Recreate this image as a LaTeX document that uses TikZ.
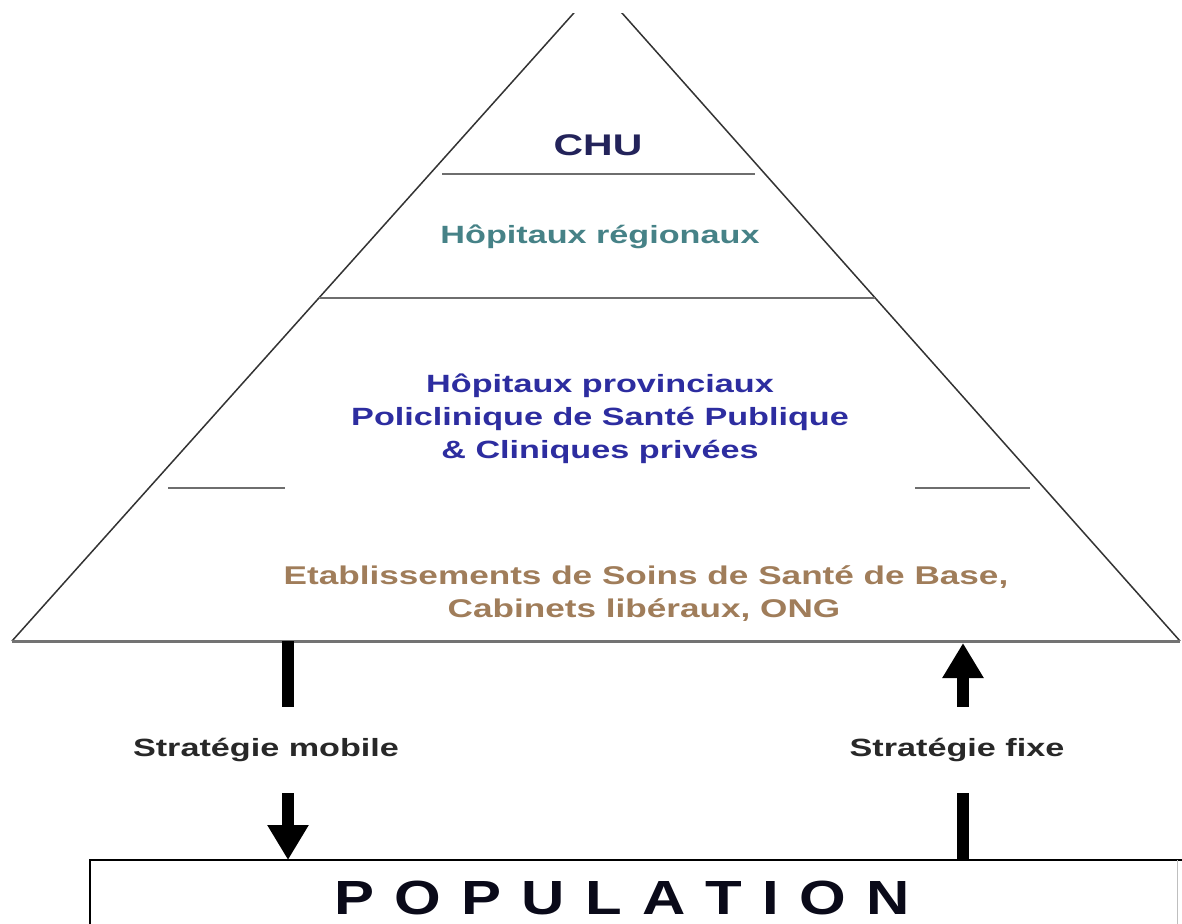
\documentclass[tikz,border=0pt]{standalone}
\usepackage{fontspec}
\setmainfont{Liberation Sans}
\newfontfamily\wf[FakeStretch=1.37]{Liberation Sans}
\newfontfamily\pf[FakeStretch=1.25]{Liberation Sans}
\usetikzlibrary{arrows.meta}
\definecolor{chuc}{RGB}{35,35,90}
\definecolor{regc}{RGB}{70,130,135}
\definecolor{provc}{RGB}{45,45,160}
\definecolor{basec}{RGB}{160,125,90}
\definecolor{stratc}{RGB}{40,40,40}
\definecolor{sepc}{RGB}{110,110,110}
\definecolor{popc}{RGB}{10,10,25}
\begin{document}
\begin{tikzpicture}[x=0.02cm,y=-0.02cm,
  lbl/.style={inner sep=0pt, align=center, font=\wf\bfseries\fontsize{14.2pt}{17pt}\selectfont},
  sepline/.style={draw=sepc, line width=0.04cm},
  side/.style={draw=black!80, line width=0.03cm},
  shaft/.style={line width=0.24cm, draw=black},
  tip/.style={-{Triangle[width=0.78cm,length=0.7cm]}}
  ]
\useasboundingbox (0,0) rectangle (1182,923);
\fill[white] (0,0) rectangle (1182,923);
% pyramid
\coordinate (apex) at (598,-14);
\coordinate (bl) at (12,641);
\coordinate (br) at (1180,641);
\begin{scope}
\clip (0,13) rectangle (1182,923);
\draw[side] (bl) -- (apex) -- (br);
\end{scope}
\draw[draw=black!55, line width=0.06cm] (bl) -- (br);
% separators
\draw[sepline] (442,174) -- (755,174);
\draw[sepline] (319,298) -- (875,298);
\draw[sepline] (168,488) -- (285,488);
\draw[sepline] (915,488) -- (1030,488);
% texts
\node[lbl, text=chuc, font=\wf\bfseries\fontsize{17pt}{20pt}\selectfont] (chu) at (598,145) {CHU};
\node[lbl, text=regc] (reg) at (600,237) {Hôpitaux régionaux};
\node[lbl, text=provc] (prov1) at (600,386) {Hôpitaux provinciaux};
\node[lbl, text=provc] (prov2) at (600,419) {Policlinique de Santé Publique};
\node[lbl, text=provc] (prov3) at (600,452) {\& Cliniques privées};
\node[lbl, text=basec, font=\wf\bfseries\fontsize{14.6pt}{17pt}\selectfont] (base1) at (646,577) {Etablissements de Soins de Santé de Base,};
\node[lbl, text=basec, font=\wf\bfseries\fontsize{14.6pt}{17pt}\selectfont] (base2) at (644,610) {Cabinets libéraux, ONG};
% population box
\node[anchor=north west, minimum width=21.8cm, minimum height=2cm, inner sep=0pt] (pop) at (90,860) {};
\draw[black, line width=0.04cm] (pop.south west) -- (pop.north west) -- ([xshift=0.04cm]pop.north east);
\draw[black!25, line width=0.03cm] ([xshift=-0.06cm]pop.north east) -- ([xshift=-0.06cm]pop.south east);
\node[inner sep=0pt, text=popc, font=\pf\bfseries\fontsize{27.3pt}{30pt}\selectfont]
  (poptxt) at (622,898) {P\kern11.5pt O\kern11.5pt P\kern11.5pt U\kern11.5pt L\kern11.5pt A\kern11.5pt T\kern11.5pt I\kern11.5pt O\kern11.5pt N};
% strategy labels
\node[lbl, text=stratc, minimum height=1.72cm] (mob) at (266,750) {Stratégie mobile};
\node[lbl, text=stratc, minimum height=1.72cm] (fix) at (957,750) {Stratégie fixe};
% arrows
\coordinate (ml) at (288,641);
\coordinate (fl) at (963,643);
\draw[shaft] (ml) -- (ml |- mob.north);
\draw[shaft, tip] (ml |- mob.south) -- (ml |- pop.north);
\draw[shaft, tip] (fl |- fix.north) -- (fl);
\draw[shaft] (fl |- pop.north) -- (fl |- fix.south);
\end{tikzpicture}
\end{document}
